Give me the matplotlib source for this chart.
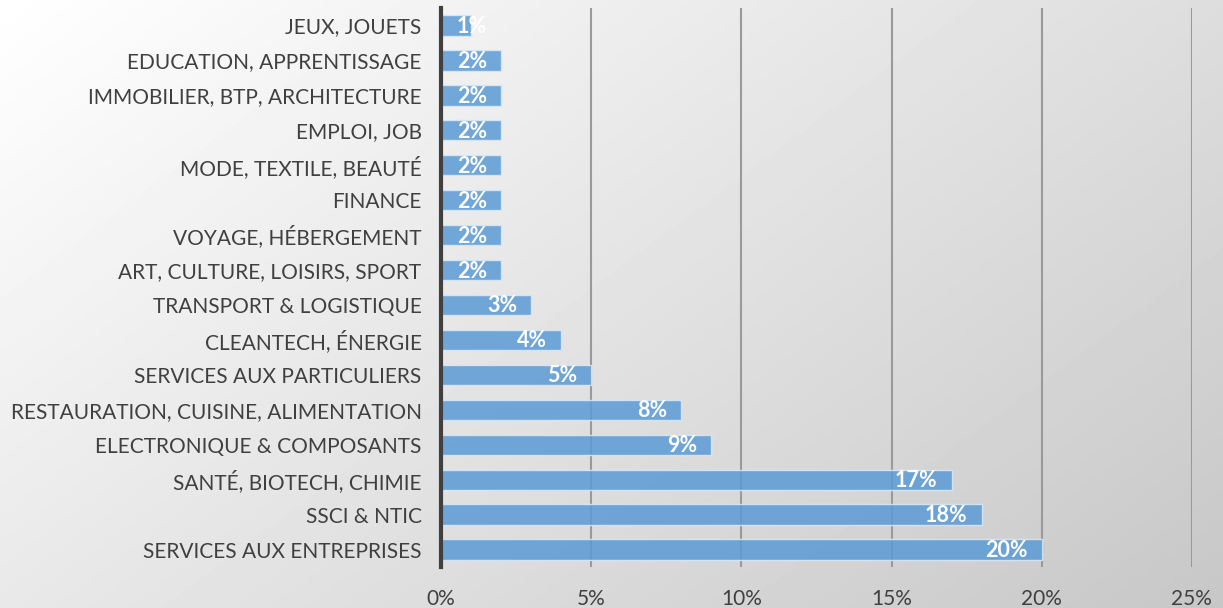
import matplotlib.pyplot as plt
import numpy as np

plt.rcParams['font.family'] = ['Lato', 'DejaVu Sans']

categories = ['SERVICES AUX ENTREPRISES', 'SSCI & NTIC', 'SANTÉ, BIOTECH, CHIMIE',
              'ELECTRONIQUE & COMPOSANTS', 'RESTAURATION, CUISINE, ALIMENTATION',
              'SERVICES AUX PARTICULIERS', 'CLEANTECH, ÉNERGIE', 'TRANSPORT & LOGISTIQUE',
              'ART, CULTURE, LOISIRS, SPORT', 'VOYAGE, HÉBERGEMENT', 'FINANCE',
              'MODE, TEXTILE, BEAUTÉ', 'EMPLOI, JOB', 'IMMOBILIER, BTP, ARCHITECTURE',
              'EDUCATION, APPRENTISSAGE', 'JEUX, JOUETS']
values = [20, 18, 17, 9, 8, 5, 4, 3, 2, 2, 2, 2, 2, 2, 2, 1]
xticks = [0, 5, 10, 15, 20, 25]

fig = plt.figure(figsize=(12.23, 6.08), dpi=100)

# background gradient (white top-left -> light grey bottom-right)
bg = fig.add_axes([0, 0, 1, 1], zorder=-10)
gx, gy = np.meshgrid(np.linspace(0, 1, 300), np.linspace(0, 1, 150))
g = 1.0 - 0.22 * (0.6 * gx + 0.4 * gy)
bg.imshow(g, cmap='gray', vmin=0, vmax=1, aspect='auto', extent=[0, 1, 0, 1])
bg.axis('off')

ax = fig.add_axes([0.3606, 0.0674, 0.614, 0.9194])
ax.patch.set_alpha(0)
y = np.arange(len(categories))
ax.barh(y, values, height=0.58, color='#5b9bd5', alpha=0.85, edgecolor='#dce9f5', linewidth=1, zorder=3)

for yi, v in zip(y, values):
    ax.annotate(f'{v}%', xy=(max(v, 2), yi), xytext=(-14, -1), textcoords='offset pixels',
                ha='right', va='center', color='white', fontsize=15.5, fontweight='bold', zorder=4)

ax.set_xlim(0, 25)
ax.set_ylim(-0.5, len(categories) - 0.5)
ax.set_xticks(xticks)
ax.set_xticklabels([f'{t}%' for t in xticks])
ax.set_yticks(y)
ax.set_yticklabels(categories)
ax.grid(axis='x', color='#9a9a9a', linewidth=1.5, zorder=0)
ax.tick_params(axis='both', length=0, labelsize=15, colors='#404040')
ax.tick_params(axis='x', pad=16)
ax.tick_params(axis='y', pad=14)
for s in ['top', 'right', 'bottom']:
    ax.spines[s].set_visible(False)
ax.spines['left'].set_color('#404040')
ax.spines['left'].set_linewidth(3)
ax.spines['left'].set_zorder(5)

plt.savefig('out.png', dpi=100)
